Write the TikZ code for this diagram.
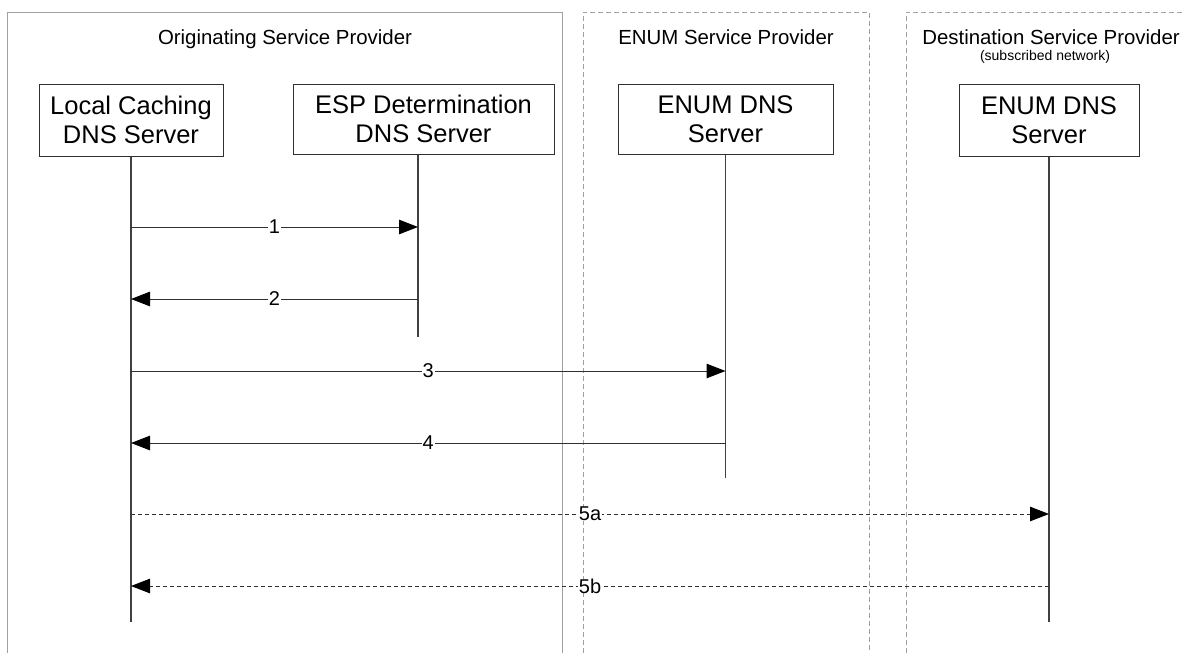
\documentclass[tikz,border=0pt]{standalone}
\usepackage{fontspec}
\setmainfont{Liberation Sans}
\usetikzlibrary{arrows.meta}
\definecolor{framegray}{HTML}{A0A0A0}
\definecolor{linegray}{HTML}{404040}
\definecolor{boxgray}{HTML}{303030}
\begin{document}
\begin{tikzpicture}[x=1pt,y=-1pt,
  server/.style={draw=boxgray, line width=1pt, fill=white, align=center, inner sep=0pt,
    minimum height=72pt, font=\fontsize{25.5}{29}\selectfont},
  frameline/.style={draw=framegray, line width=1pt},
  framedash/.style={frameline, dash pattern=on 5pt off 3pt},
  lifeline/.style={draw=linegray, line width=1.2pt},
  msg/.style={draw=boxgray, line width=1pt, -{Triangle[length=19pt,width=14.5pt,color=black,fill=black]}},
  msgdash/.style={msg, dash pattern=on 4pt off 3pt},
  lbl/.style={fill=white, inner xsep=1pt, inner ysep=0pt, font=\fontsize{20}{20}\selectfont},
  hdr/.style={font=\fontsize{20.4}{24}\selectfont, anchor=base},
  subhdr/.style={font=\fontsize{14}{16}\selectfont, anchor=base}
]
\useasboundingbox (0,0) rectangle (1182,653);
\fill[white] (0,0) rectangle (1182,653);

% provider frames
\draw[frameline] (7,653) -- (7,12) -- (562,12) -- (562,653);
\draw[framedash] (583,653) -- (583,12) -- (869,12) -- (869,653);
\draw[framedash] (906,653) -- (906,12) -- (1182,12);

% headers
\node[hdr] (h1) at (285,44) {Originating Service Provider};
\node[hdr] (h2) at (726,44) {ENUM Service Provider};
\node[hdr] (h3) at (1051,44) {Destination Service Provider};
\node[subhdr] (h3s) at (1045,60) {(subscribed network)};

% servers
\node[server, minimum width=184pt] (lcd) at (131,120) {Local Caching\\DNS Server};
\node[server, minimum width=261pt, minimum height=70pt] (esp) at (423.5,119) {ESP Determination\\DNS Server};
\node[server, minimum width=215pt, minimum height=70pt] (enum) at (725.5,119) {ENUM DNS\\Server};
\node[server, minimum width=180pt] (dest) at (1049,120) {ENUM DNS\\Server};

% lifelines
\coordinate (espTop) at ([xshift=-5.5pt]esp.south);
\coordinate (lcdEnd) at (131,622);
\coordinate (espEnd) at (418,337);
\coordinate (enumEnd) at (725.5,478);
\coordinate (destEnd) at (1049,622);
\draw[lifeline] (lcd.south) -- (lcdEnd);
\draw[lifeline] (espTop) -- (espEnd);
\draw[lifeline] (enum.south) -- (enumEnd);
\draw[lifeline] (dest.south) -- (destEnd);

% message points
\coordinate (a1) at (131,227);   \coordinate (b1) at (418,227);
\coordinate (a2) at (131,299);   \coordinate (b2) at (418,299);
\coordinate (a3) at (131,371);   \coordinate (b3) at (725.5,371);
\coordinate (a4) at (131,443);   \coordinate (b4) at (725.5,443);
\coordinate (a5) at (131,514);   \coordinate (b5) at (1049,514);
\coordinate (a6) at (131,586);   \coordinate (b6) at (1049,586);

\draw[msg] (a1) -- node[lbl] {1} (b1);
\draw[msg] (b2) -- node[lbl] {2} (a2);
\draw[msg] (a3) -- node[lbl] {3} (b3);
\draw[msg] (b4) -- node[lbl] {4} (a4);
\draw[msgdash] (a5) -- node[lbl] {5a} (b5);
\draw[msgdash] (b6) -- node[lbl] {5b} (a6);
\end{tikzpicture}
\end{document}
